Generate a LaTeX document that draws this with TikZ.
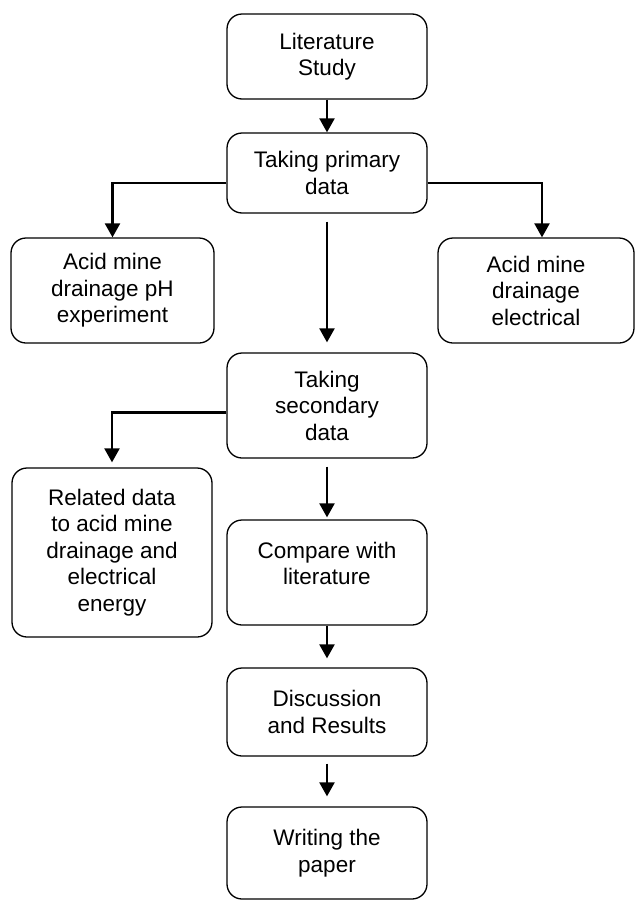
\documentclass[tikz,border=0pt]{standalone}
\usepackage{fontspec}
\setmainfont{Liberation Sans}
\usetikzlibrary{arrows.meta}

\begin{document}
\begin{tikzpicture}[x=1pt, y=1pt,
  every node/.style={font=\fontsize{22.5}{26.5}\selectfont},
  box/.style={rectangle, rounded corners=15pt, draw, line width=1.3pt,
              align=center, inner sep=0pt, minimum width=200pt},
  arr/.style={-{Triangle[width=15pt,length=14pt]}, line width=2.3pt}]

\useasboundingbox (0,0) rectangle (635,-900);

% ======================================================================
% MAIN COLUMN
% ======================================================================
\node[box, minimum height=85pt]  (lit)       at (327,-56.5) {Literature\\Study};
\node[box, minimum height=80pt]  (primary)   at (327,-173)  {Taking primary\\data};
\node[box, minimum height=105pt] (secondary) at (327,-405.5) {Taking\\secondary\\data};
\node[box, minimum height=105pt] (compare)   at (327,-572.5) {Compare with\\literature\\[-8pt]};
\node[box, minimum height=88pt]  (discuss)   at (327,-712)  {Discussion\\and Results};
\node[box, minimum height=92pt]  (writing)   at (327,-853)  {Writing the\\paper};

% ======================================================================
% SIDE BOXES
% ======================================================================
\node[box, minimum width=203pt, minimum height=105pt] (phexp) at (112.5,-290.5)
  {Acid mine\\drainage pH\\experiment};
\node[box, minimum width=196pt, minimum height=105pt] (elec)  at (536,-290.5)
  {Acid mine\\drainage\\electrical};
\node[box, minimum height=169pt] (related) at (112,-552.5)
  {Related data\\to acid mine\\drainage and\\electrical\\energy};

% ======================================================================
% CONNECTORS
% ======================================================================
\draw[arr] (lit) -- (primary);
\draw[arr] ([yshift=-10pt]primary.west) -| (phexp.north);
\draw[arr] ([yshift=-10pt]primary.east) -| ([xshift=6pt]elec.north);
\draw[arr, shorten <=8pt, shorten >=10pt] (primary) -- (secondary);
\draw[arr, shorten >=5pt] ([yshift=-7pt]secondary.west) -| (related.north);
\draw[arr, shorten <=8pt, shorten >=2pt] (secondary) -- (compare);
\draw[arr, shorten >=9pt] (compare) -- (discuss);
\draw[arr, shorten <=7pt, shorten >=10pt] (discuss) -- (writing);

\end{tikzpicture}
\end{document}
